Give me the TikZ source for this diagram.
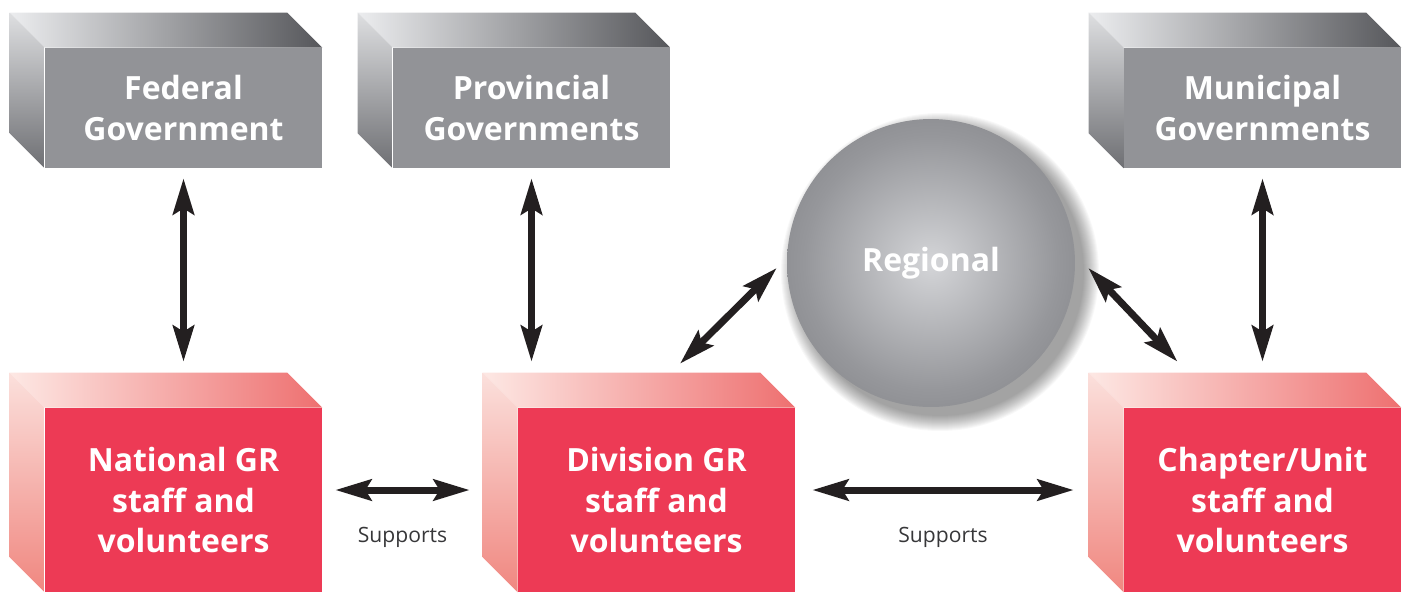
\documentclass[tikz,border=0pt]{standalone}
\usepackage{fontspec}
\setmainfont{Open Sans}
\usetikzlibrary{positioning, arrows.meta}
\definecolor{GovFront}{RGB}{146,147,151}
\definecolor{GovTopL}{RGB}{236,237,239}
\definecolor{GovTopR}{RGB}{86,87,91}
\definecolor{GovSideT}{RGB}{222,223,225}
\definecolor{GovSideB}{RGB}{110,111,115}
\definecolor{GRFront}{RGB}{237,58,85}
\definecolor{GRTopL}{RGB}{253,232,228}
\definecolor{GRTopR}{RGB}{238,112,112}
\definecolor{GRSideT}{RGB}{251,224,220}
\definecolor{GRSideB}{RGB}{240,135,128}
\definecolor{InkBlack}{RGB}{35,31,32}
\definecolor{LabelGrey}{RGB}{55,55,57}
\definecolor{BallHi}{RGB}{212,213,216}
\definecolor{BallMid}{RGB}{150,151,155}
\definecolor{BallRim}{RGB}{98,99,103}
\pgfdeclareradialshading{regionalball}{\pgfpoint{0bp}{0bp}}{color(0bp)=(BallHi); color(22bp)=(BallMid); color(50bp)=(BallRim)}
\def\bdepth{35}
\tikzset{
  govbox/.style={rectangle, fill=GovFront, text=white, minimum width=5.54cm, minimum height=2.4cm,
    inner sep=0pt, align=center, font=\fontsize{18.2}{23.3}\selectfont\bfseries},
  grbox/.style={govbox, fill=GRFront, minimum height=3.68cm},
  ball/.style={circle, minimum size=5.76cm, inner sep=0pt, shade, shading=regionalball,
    text=white, font=\fontsize{18.2}{23.3}\selectfont\bfseries},
  biarrow/.style={{Stealth[length=0.72cm,width=0.42cm,inset=0.12cm]}-{Stealth[length=0.72cm,width=0.42cm,inset=0.12cm]},
    line width=0.14cm, InkBlack},
  supportlbl/.style={font=\fontsize{12}{14}\selectfont, text=LabelGrey},
}
% top and left faces of a block, hung on the front node
\newcommand\boxfaces[5]{%
  \shade[left color=#2, right color=#3] (#1.north west) -- ++(-\bdepth,-\bdepth)
    -- ([shift={(-\bdepth,-\bdepth)}]#1.north east) -- (#1.north east) -- cycle;
  \shade[top color=#4, bottom color=#5] (#1.north west) -- ++(-\bdepth,-\bdepth)
    -- ([shift={(-\bdepth,-\bdepth)}]#1.south west) -- (#1.south west) -- cycle;
}
\begin{document}
\begin{tikzpicture}[x=0.02cm, y=-0.02cm]
  \useasboundingbox (0,0) rectangle (1406,593);

  % government blocks
  \node[govbox] (fed) at (183.5,108) {Federal\\Government};
  \node[govbox] (prov) at (531.5,108) {Provincial\\Governments};
  \node[govbox] (muni) at (1262.5,108) {Municipal\\Governments};
  \boxfaces{fed}{GovTopL}{GovTopR}{GovSideT}{GovSideB}
  \boxfaces{prov}{GovTopL}{GovTopR}{GovSideT}{GovSideB}
  \boxfaces{muni}{GovTopL}{GovTopR}{GovSideT}{GovSideB}

  % GR blocks
  \node[grbox] (nat) at (183.5,500) {National GR\\staff and\\volunteers};
  \node[grbox] (div) at (656.5,500) {Division GR\\staff and\\volunteers};
  \node[grbox] (chap) at (1262.5,500) {Chapter/Unit\\staff and\\volunteers};
  \boxfaces{nat}{GRTopL}{GRTopR}{GRSideT}{GRSideB}
  \boxfaces{div}{GRTopL}{GRTopR}{GRSideT}{GRSideB}
  \boxfaces{chap}{GRTopL}{GRTopR}{GRSideT}{GRSideB}

  % regional ball with a soft shadow
  \coordinate (regc) at (931,263);
  \foreach \r in {1,...,16}
    \fill[black, opacity=0.028] ([shift={(9,9)}]regc) circle[radius={2.86cm+\r*0.02cm}];
  \node[ball] (reg) at (regc) {Regional};

  % links
  \draw[biarrow] ([shift={(0,10)}]fed.south) -- ([shift={(0,-46)}]nat.north);
  \draw[biarrow] ([shift={(0,10)}]prov.south) -- ([shift={(-125,-46)}]div.north);
  \draw[biarrow] ([shift={(0,10)}]muni.south) -- ([shift={(0,-46)}]chap.north);
  \draw[biarrow] ([shift={(23.5,-44)}]div.north) -- ([shift={(-10,5)}]reg.west);
  \draw[biarrow] ([shift={(13,5)}]reg.east) -- ([shift={(-85,-46)}]chap.north);
  \draw[biarrow] ([shift={(13,-10)}]nat.east) -- ([shift={(-48,-10)}]div.west)
    node[midway, yshift=-0.94cm, supportlbl] (sup1) {Supports};
  \draw[biarrow] ([shift={(17,-10)}]div.east) -- ([shift={(-50,-10)}]chap.west)
    node[midway, yshift=-0.94cm, supportlbl] (sup2) {Supports};
\end{tikzpicture}
\end{document}
